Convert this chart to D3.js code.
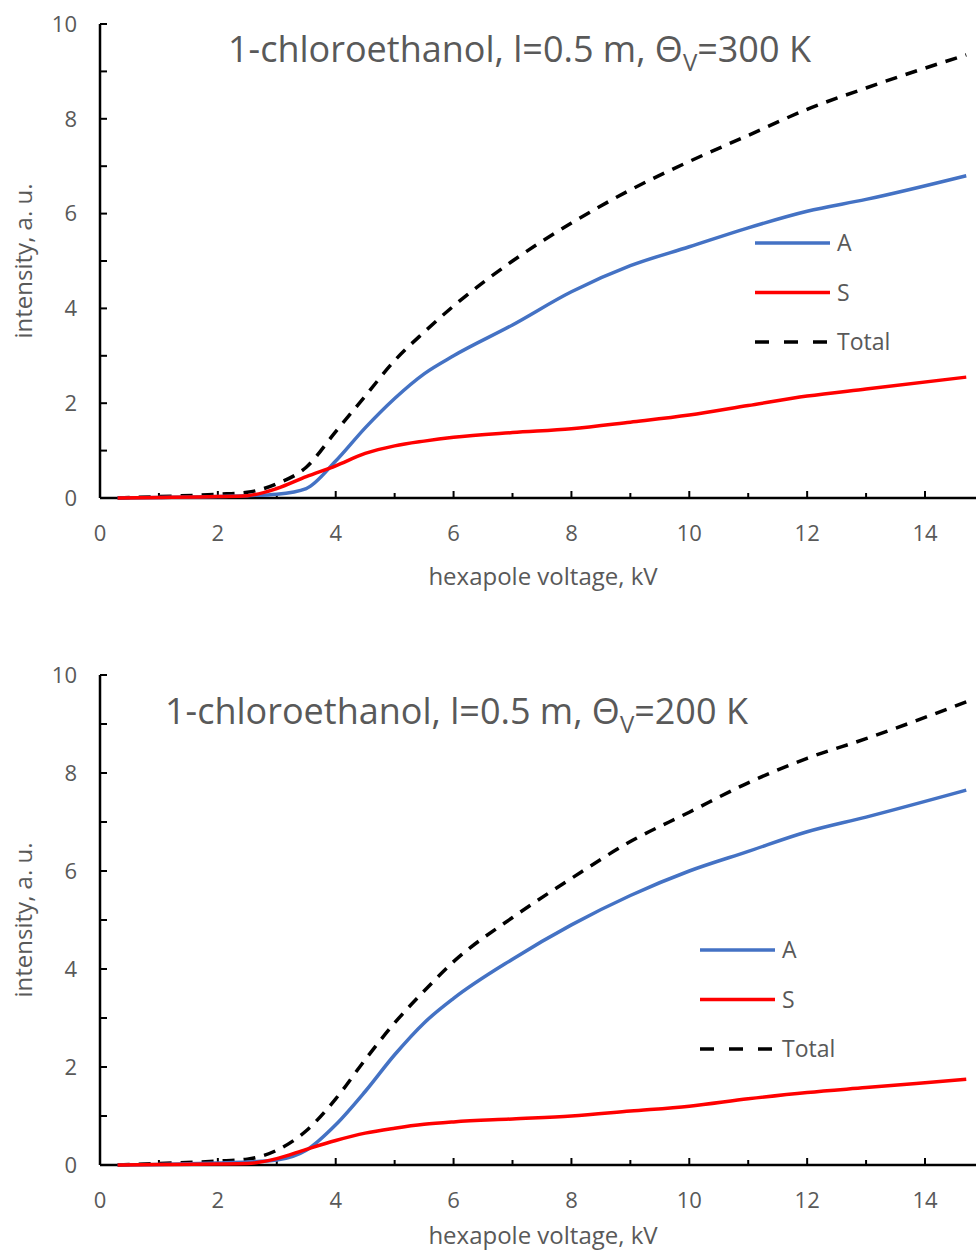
<!DOCTYPE html>
<html>
<head>
<meta charset="utf-8">
<script src="https://cdn.jsdelivr.net/npm/d3@7"></script>
<style>
  body { margin: 0; background: #fff; }
  text { font-family: "Open Sans", "Liberation Sans", sans-serif; fill: #595959; }
  .tick-label { font-size: 22px; }
  .axis-title { font-size: 24px; }
  .chart-title { font-size: 36px; }
  .legend-label { font-size: 23px; }
</style>
</head>
<body>
<div id="chart"></div>
<script>
// top panel (Theta_V = 300 K)
var voltTop = [0.3, 1, 2, 2.5, 3, 3.5, 4, 4.5, 5, 5.5, 6, 7, 8, 9, 10, 11, 12, 13, 14.7];
var aTop    = [0, 0.01, 0.03, 0.05, 0.08, 0.2, 0.78, 1.48, 2.1, 2.62, 3.0, 3.65, 4.35, 4.9, 5.3, 5.7, 6.05, 6.3, 6.8];
var sTop    = [0, 0.01, 0.03, 0.05, 0.2, 0.45, 0.68, 0.94, 1.1, 1.2, 1.28, 1.38, 1.46, 1.6, 1.75, 1.95, 2.15, 2.3, 2.55];
var totTop  = [0, 0.03, 0.08, 0.12, 0.3, 0.65, 1.4, 2.15, 2.9, 3.5, 4.05, 5.0, 5.8, 6.5, 7.1, 7.65, 8.2, 8.65, 9.35];

// bottom panel (Theta_V = 200 K)
var voltBot = [0.3, 1, 2, 2.5, 3, 3.5, 4, 4.5, 5, 5.5, 6, 7, 8, 9, 10, 11, 12, 13, 14.7];
var aBot    = [0, 0.01, 0.04, 0.06, 0.1, 0.3, 0.82, 1.5, 2.25, 2.9, 3.4, 4.2, 4.9, 5.5, 6.0, 6.4, 6.8, 7.1, 7.65];
var sBot    = [0, 0.01, 0.02, 0.03, 0.13, 0.32, 0.5, 0.65, 0.75, 0.83, 0.88, 0.94, 1.0, 1.1, 1.2, 1.35, 1.48, 1.58, 1.75];
var totBot  = [0, 0.03, 0.08, 0.12, 0.3, 0.7, 1.35, 2.15, 2.9, 3.55, 4.15, 5.05, 5.85, 6.6, 7.2, 7.8, 8.3, 8.7, 9.45];

var xTicks = [0, 2, 4, 6, 8, 10, 12, 14];
var yTicks = [0, 2, 4, 6, 8, 10];
var seriesNames = ['A', 'S', 'Total'];

var width = 976, height = 1256;
var svg = d3.select('#chart').append('svg')
  .attr('width', width).attr('height', height);

var x = d3.scaleLinear().domain([0, 14]).range([100, 925]);

function drawPanel(opts) {
  var y = d3.scaleLinear().domain([0, 10]).range([opts.y0, opts.y10]);
  var g = svg.append('g');

  // y axis: line, ticks pointing right every 1
  g.append('line')
    .attr('x1', x(0)).attr('x2', x(0))
    .attr('y1', y(0)).attr('y2', y(10))
    .attr('stroke', '#000').attr('stroke-width', 2.5);
  g.selectAll('.ytick').data(d3.range(0, 11)).enter().append('line')
    .attr('x1', x(0)).attr('x2', x(0) + 7)
    .attr('y1', function (d) { return y(d); })
    .attr('y2', function (d) { return y(d); })
    .attr('stroke', '#000').attr('stroke-width', 2);
  g.selectAll('.ylab').data(yTicks).enter().append('text')
    .attr('class', 'tick-label')
    .attr('x', x(0) - 23).attr('y', function (d) { return y(d); })
    .attr('dy', '0.35em').attr('text-anchor', 'end')
    .text(function (d) { return d; });

  // x axis: line to edge, ticks pointing up every 1
  g.append('line')
    .attr('x1', x(0)).attr('x2', width)
    .attr('y1', y(0)).attr('y2', y(0))
    .attr('stroke', '#000').attr('stroke-width', 2.5);
  g.selectAll('.xtick').data(d3.range(1, 15)).enter().append('line')
    .attr('x1', function (d) { return x(d); })
    .attr('x2', function (d) { return x(d); })
    .attr('y1', y(0)).attr('y2', function (d) { return y(0) - (d % 2 === 0 ? 7 : 5); })
    .attr('stroke', '#000').attr('stroke-width', 2);
  g.selectAll('.xlab').data(xTicks).enter().append('text')
    .attr('class', 'tick-label')
    .attr('x', function (d) { return x(d); })
    .attr('y', y(0) + 35).attr('dy', '0.35em')
    .attr('text-anchor', 'middle')
    .text(function (d) { return d; });

  g.append('text').attr('class', 'axis-title')
    .attr('x', 543).attr('y', Math.min(y(0) + 79, height - 20)).attr('dy', '0.35em')
    .attr('text-anchor', 'middle')
    .text('hexapole voltage, kV');

  g.append('text').attr('class', 'axis-title')
    .attr('transform', 'translate(24,' + y(5) + ') rotate(-90)')
    .attr('dy', '0.35em').attr('text-anchor', 'middle')
    .text('intensity, a. u.');

  // title
  var t = g.append('text').attr('class', 'chart-title')
    .attr('x', opts.titleX).attr('y', opts.titleY);
  t.append('tspan').text('1-chloroethanol, l=0.5 m, \u0398');
  t.append('tspan').attr('dy', 9).style('font-size', '24px').text('V');
  t.append('tspan').attr('dy', -9).text('=' + opts.temp + ' K');

  // curves
  var line = d3.line()
    .x(function (d) { return x(d[0]); })
    .y(function (d) { return y(d[1]); })
    .curve(d3.curveMonotoneX);

  var series = [
    { name: 'A', vals: opts.a, color: '#4472C4', dash: null },
    { name: 'S', vals: opts.s, color: '#FF0000', dash: null },
    { name: 'Total', vals: opts.tot, color: '#000000', dash: '12,9' }
  ];
  // total underneath, then A, then S on top
  [series[2], series[0], series[1]].forEach(function (s) {
    g.append('path')
      .datum(d3.zip(opts.volt, s.vals))
      .attr('d', line)
      .attr('fill', 'none')
      .attr('stroke', s.color)
      .attr('stroke-width', 3.5)
      .attr('stroke-dasharray', s.dash);
  });

  // legend
  var lg = g.append('g').attr('transform', 'translate(' + opts.legX + ',' + opts.legY + ')');
  series.forEach(function (s, i) {
    lg.append('line')
      .attr('x1', 0).attr('x2', 75)
      .attr('y1', i * 49.5).attr('y2', i * 49.5)
      .attr('stroke', s.color).attr('stroke-width', 3.5)
      .attr('stroke-dasharray', s.dash ? '14,15' : null);
    lg.append('text').attr('class', 'legend-label')
      .attr('x', 82).attr('y', i * 49.5).attr('dy', '0.35em')
      .text(s.name);
  });
}

drawPanel({ y0: 498, y10: 24, volt: voltTop, a: aTop, s: sTop, tot: totTop,
  temp: 300, titleX: 228, titleY: 62, legX: 755, legY: 243 });
drawPanel({ y0: 1165, y10: 675, volt: voltBot, a: aBot, s: sBot, tot: totBot,
  temp: 200, titleX: 165, titleY: 724, legX: 700, legY: 950 });
</script>
</body>
</html>
